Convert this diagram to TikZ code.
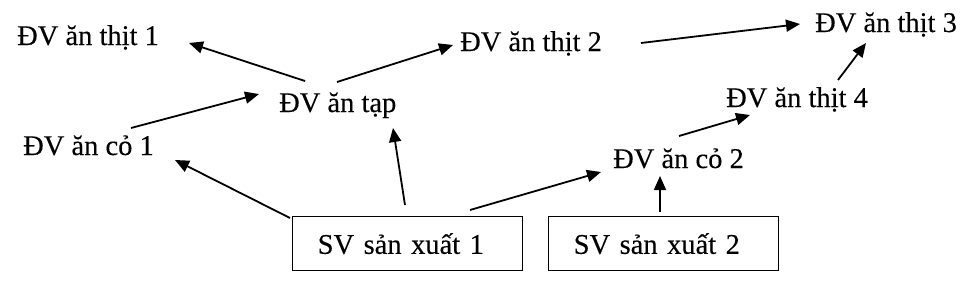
\documentclass[tikz,border=0pt]{standalone}
\usepackage{fontspec}
\setmainfont{Liberation Serif}[FakeBold=0.3]
\usetikzlibrary{positioning, arrows.meta, calc}

\begin{document}
\begin{tikzpicture}[
    x=1pt, y=1pt,
    % Estilos de nodos
    loai/.style={
        inner sep=0pt, anchor=base west,
        font=\fontsize{28.5}{32}\selectfont
    },
    sinhvat/.style={
        rectangle, draw=black, line width=1.4pt,
        anchor=north west, text width=180pt, align=left,
        inner xsep=25pt, inner ysep=0pt, minimum height=54pt,
        font=\fontsize{28.5}{32}\selectfont
    },
    muiten/.style={
        -{Triangle[length=14pt, width=12pt]}, line width=1.8pt, color=black
    }
]

% ── Khung hình ──
\useasboundingbox (0,0) rectangle (963,-287);

% ════════════════════════════════════════
% SINH VẬT SẢN XUẤT (hàng dưới)
% ════════════════════════════════════════
\node[sinhvat] (sv1) at (292,-216) {SV sản xuất 1};
\node[sinhvat] (sv2) at (548,-216) {SV sản xuất 2};

% ════════════════════════════════════════
% ĐỘNG VẬT (các bậc dinh dưỡng)
% ════════════════════════════════════════
\node[loai] (co1)   at (23,-155)  {ĐV ăn cỏ 1};
\node[loai] (co2)   at (613,-168) {ĐV ăn cỏ 2};
\node[loai] (tap)   at (279,-112) {ĐV ăn tạp};
\node[loai] (thit1) at (17,-45)   {ĐV ăn thịt 1};
\node[loai] (thit2) at (460,-51)  {ĐV ăn thịt 2};
\node[loai] (thit4) at (726,-107) {ĐV ăn thịt 4};
\node[loai] (thit3) at (815,-32)  {ĐV ăn thịt 3};

% ════════════════════════════════════════
% MŨI TÊN từ sinh vật sản xuất
% ════════════════════════════════════════
\draw[muiten] ($(sv1.north west)+(-2,-2)$) -- ($(co1.base west)+(152,-5)$);
\draw[muiten] ($(sv1.north west)+(113,11)$) -- ($(tap.base west)+(114,-16)$);
\draw[muiten] ($(sv1.north west)+(178,6)$)  -- ($(co2.base west)+(-12,-4)$);
\draw[muiten] ($(sv2.north west)+(112,4)$)  -- ($(co2.base west)+(47,-8)$);

% ════════════════════════════════════════
% MŨI TÊN giữa các động vật
% ════════════════════════════════════════
\draw[muiten] ($(co1.base west)+(108,27)$)  -- ($(tap.base west)+(-20,18)$);
\draw[muiten] ($(tap.base west)+(26,31)$)   -- ($(thit1.base west)+(172,2)$);
\draw[muiten] ($(tap.base west)+(58,30)$)   -- ($(thit2.base west)+(-7,6)$);
\draw[muiten] ($(thit2.base west)+(181,8)$) -- ($(thit3.base west)+(-15,8)$);
\draw[muiten] ($(co2.base west)+(66,32)$)   -- ($(thit4.base west)+(24,-8)$);
\draw[muiten] ($(thit4.base west)+(112,27)$) -- ($(thit3.base west)+(51,-11)$);

\end{tikzpicture}
\end{document}
